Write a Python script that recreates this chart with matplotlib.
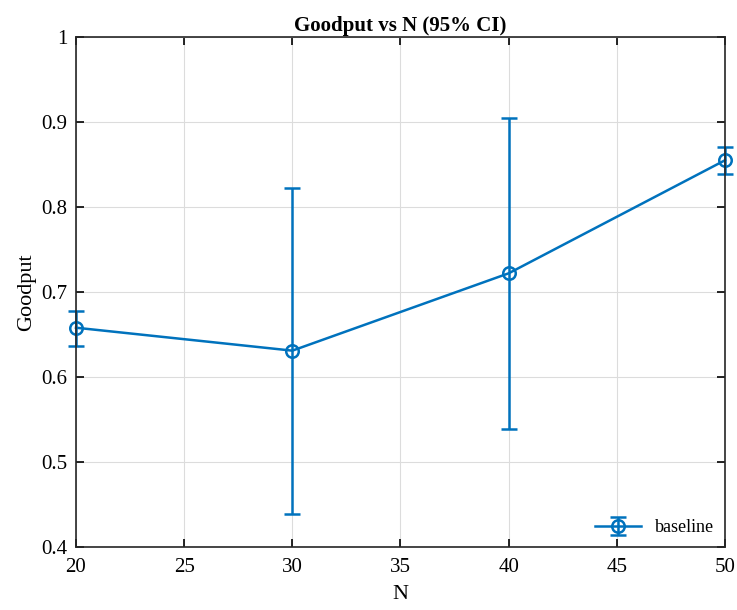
import numpy as np
import matplotlib.pyplot as plt

plt.rcParams['font.family'] = ['Liberation Serif', 'DejaVu Serif']

n_vals = [20, 30, 40, 50]
goodput = [0.658, 0.631, 0.722, 0.855]
ci_low = [0.636, 0.439, 0.539, 0.839]
ci_high = [0.678, 0.822, 0.905, 0.871]

goodput = np.array(goodput)
yerr = [goodput - np.array(ci_low), np.array(ci_high) - goodput]

fig = plt.figure(figsize=(7.37, 6.10), dpi=100)
ax = fig.add_axes([0.1031, 0.1033, 0.8806, 0.836])

ax.errorbar(n_vals, goodput, yerr=yerr, color='#0072BD', linewidth=1.8,
            marker='o', markersize=9, markerfacecolor='none', markeredgewidth=1.8,
            capsize=6, capthick=1.8, elinewidth=1.8, label='baseline', clip_on=False)

ax.set_xlim(20, 50)
ax.set_ylim(0.4, 1.0)
ax.set_xticks([20, 25, 30, 35, 40, 45, 50])
ax.set_yticks([0.4, 0.5, 0.6, 0.7, 0.8, 0.9, 1.0])
ax.set_yticklabels(['0.4', '0.5', '0.6', '0.7', '0.8', '0.9', '1'])
ax.grid(True, color='#dcdcdc', linewidth=0.8)
ax.set_axisbelow(True)
ax.tick_params(direction='in', top=True, right=True, labelsize=15, length=6, width=1.2)
ax.tick_params(axis='x', pad=8)
ax.tick_params(axis='y', pad=6)
for s in ax.spines.values():
    s.set_linewidth(1.2)
    s.set_color('#262626')

ax.set_xlabel('N', fontsize=16, labelpad=6)
ax.set_ylabel('Goodput', fontsize=16, labelpad=4)
ax.set_title('Goodput vs N (95% CI)', fontsize=15, fontweight='bold', pad=4)
ax.legend(loc='lower right', frameon=False, fontsize=13, handlelength=2.5,
          borderaxespad=0.2)

fig.savefig('out.png', dpi=100)
